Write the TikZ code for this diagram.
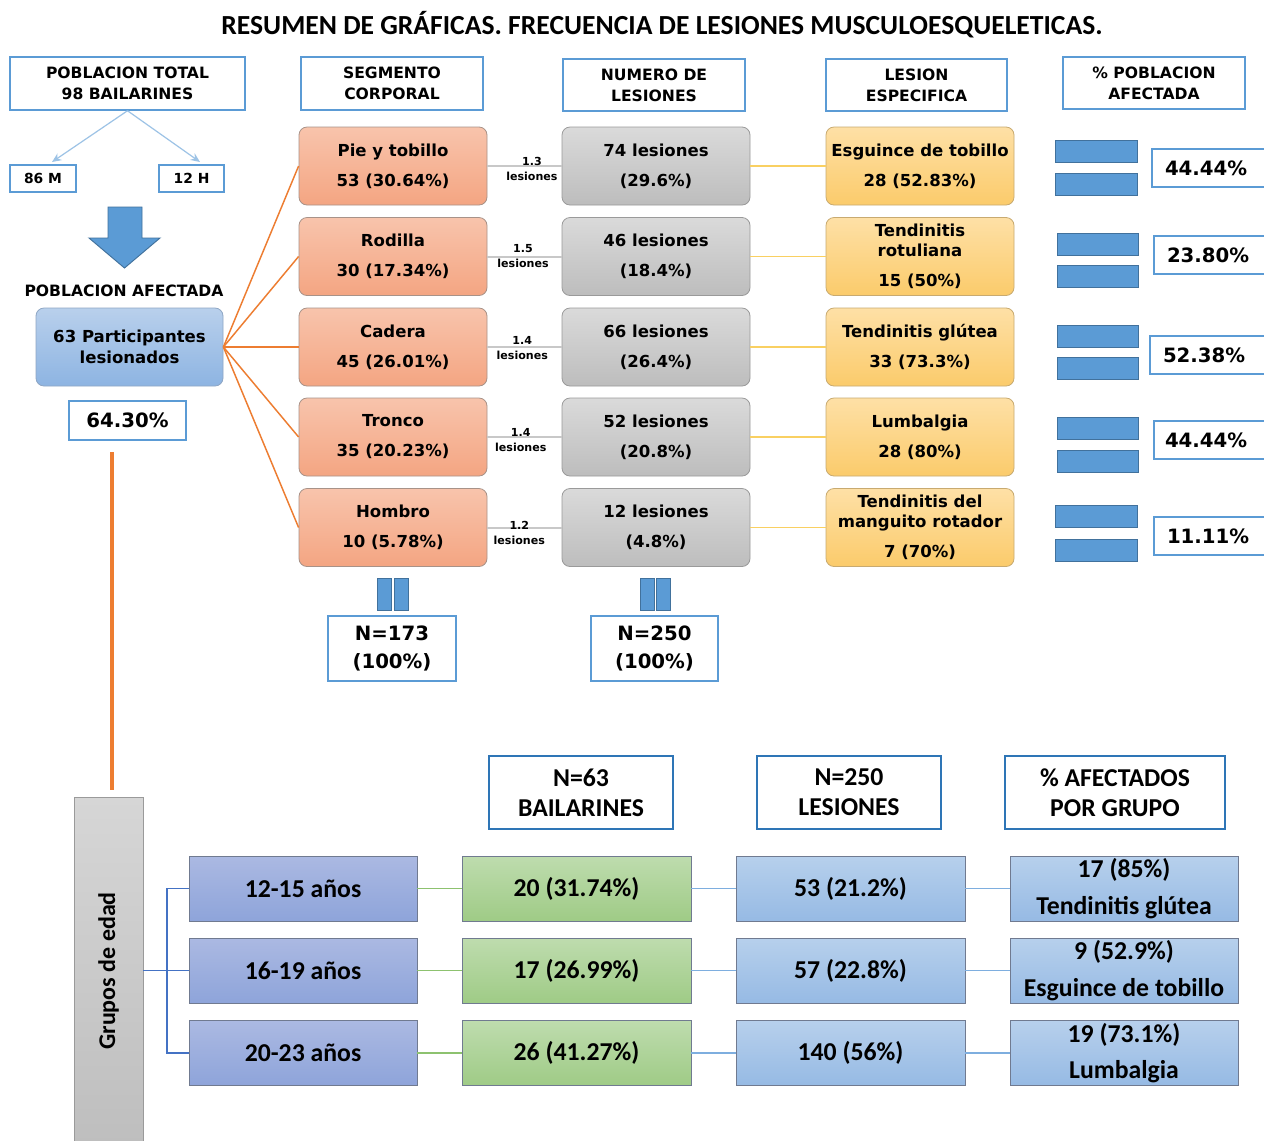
\documentclass[tikz,border=0pt]{standalone}
\usepackage{fontspec}
\setmainfont{Carlito}
\newfontfamily\dv{DejaVu Sans}
\usetikzlibrary{arrows.meta}
\definecolor{hdrblue}{HTML}{5B9BD5}
\definecolor{hdrblue2}{HTML}{2E75B6}
\definecolor{salT}{HTML}{F8C4AC}
\definecolor{salB}{HTML}{F4A582}
\definecolor{salE}{HTML}{A89288}
\definecolor{grayT}{HTML}{DADADA}
\definecolor{grayB}{HTML}{BDBDBD}
\definecolor{grayE}{HTML}{9A9A9A}
\definecolor{yelT}{HTML}{FEE0A6}
\definecolor{yelB}{HTML}{FBCB6B}
\definecolor{yelE}{HTML}{C8AA70}
\definecolor{partT}{HTML}{B9D0EC}
\definecolor{partB}{HTML}{8DB4E2}
\definecolor{partE}{HTML}{8EA6C4}
\definecolor{barblue}{HTML}{5B9BD5}
\definecolor{barE}{HTML}{41719C}
\definecolor{ageT}{HTML}{ABB9E2}
\definecolor{ageB}{HTML}{8EA4DA}
\definecolor{ageE}{HTML}{707A90}
\definecolor{grnT}{HTML}{BEDCAE}
\definecolor{grnB}{HTML}{9FCB86}
\definecolor{bluT}{HTML}{B7D0EC}
\definecolor{bluB}{HTML}{96BAE4}
\definecolor{grpT}{HTML}{D6D6D6}
\definecolor{grpB}{HTML}{BEBEBE}
\definecolor{orng}{HTML}{ED7D31}
\definecolor{lgray}{HTML}{C8C8C8}
\definecolor{lyel}{HTML}{F9D062}
\definecolor{lblue}{HTML}{9DC3E6}
\definecolor{brk}{HTML}{4472C4}
\definecolor{lgrn}{HTML}{8DC26F}
\definecolor{lblu}{HTML}{7EAEDF}
\newcommand\dvhdr{\dv\bfseries\fontsize{11.7}{15.75}\selectfont}
\newcommand\dvbody{\dv\bfseries\fontsize{12.4}{15}\selectfont}
\newcommand\dvbig{\dv\bfseries\fontsize{14.8}{21}\selectfont}
\newcommand\cbody{\bfseries\fontsize{19.3}{22.5}\selectfont}
\tikzset{
  sz/.style 2 args={minimum width=#1*0.75pt,minimum height=#2*0.75pt},
  base/.style={inner sep=0pt,align=center,text=black},
  hdr/.style={base,draw=hdrblue,line width=1.1pt,fill=white,font=\dvhdr},
  hdrb/.style={base,draw=hdrblue2,line width=1.5pt,fill=white,font=\cbody},
  salmon/.style={base,rounded corners=6pt,draw=salE,line width=0.6pt,top color=salT,bottom color=salB,font=\dvbody,sz={188}{78}},
  grayb/.style={base,rounded corners=6pt,draw=grayE,line width=0.6pt,top color=grayT,bottom color=grayB,font=\dvbody,sz={188}{78}},
  yelb/.style={base,rounded corners=6pt,draw=yelE,line width=0.6pt,top color=yelT,bottom color=yelB,font=\dvbody,sz={188}{78}},
  bar/.style={draw=barE,line width=0.6pt,fill=barblue,inner sep=0pt},
  pctb/.style={hdr,font=\dvbig},
  lbl/.style={inner sep=0pt,align=center,font=\dv\bfseries\fontsize{8.3}{11.25}\selectfont},
  ageb/.style={base,draw=ageE,line width=0.6pt,top color=ageT,bottom color=ageB,font=\cbody,sz={228}{65}},
  grnb/.style={base,draw=ageE,line width=0.6pt,top color=grnT,bottom color=grnB,font=\cbody,sz={229}{65}},
  blub/.style={base,draw=ageE,line width=0.6pt,top color=bluT,bottom color=bluB,font=\cbody,sz={229}{65}},
  orl/.style={draw=orng,line width=1.1pt},
  grl/.style={draw=lgray,line width=1.5pt},
  yel/.style={draw=lyel,line width=1.3pt},
}
\begin{document}
\begin{tikzpicture}[x=0.75pt,y=-0.75pt]
\useasboundingbox (0,0) rectangle (1264,1140);
\fill[white] (0,0) rectangle (1264,1140);

% title
\node[base,font=\bfseries\fontsize{20.7}{24}\selectfont] (title) at (662,25) {RESUMEN DE GRÁFICAS. FRECUENCIA DE LESIONES MUSCULOESQUELETICAS.};

% left column
\node[hdr,sz={235}{53}] (tot) at (127.5,83.5) {POBLACION TOTAL\\98 BAILARINES};
\node[hdr,sz={66}{27},font=\dv\bfseries\fontsize{10.4}{12}\selectfont,line width=0.9pt] (m) at (43,178.5) {86 M};
\node[hdr,sz={65}{27},font=\dv\bfseries\fontsize{10.4}{12}\selectfont,line width=0.9pt] (h) at (191.5,178.5) {12 H};
\coordinate (ma) at (52,162);
\coordinate (ha) at (200,162);
\draw[lblue,line width=0.9pt,-{Stealth[length=7pt,width=6pt]}] (tot.south) -- (ma);
\draw[lblue,line width=0.9pt,-{Stealth[length=7pt,width=6pt]}] (tot.south) -- (ha);
\draw[draw=barE,fill=barblue,line width=0.7pt] (108,207) -- (142,207) -- (142,238) -- (160,238) -- (124.5,268) -- (89,238) -- (108,238) -- cycle;
\node[base,font=\dvhdr] (pa) at (124,291) {POBLACION AFECTADA};
\node[base,rounded corners=6pt,draw=partE,line width=0.6pt,top color=partT,bottom color=partB,font=\dv\bfseries\fontsize{12.4}{15.75}\selectfont,sz={187}{78}] (part) at (129.5,347) {63 Participantes\\lesionados};
\node[pctb,sz={117}{39}] (pct) at (127.5,420.5) {64.30\%};

% headers
\node[hdr,sz={182}{53}] (hseg) at (392,83.5) {SEGMENTO\\CORPORAL};
\node[hdr,sz={182}{52}] (hnum) at (654,85) {NUMERO DE\\LESIONES};
\node[hdr,sz={181}{52}] (hles) at (916.5,85) {LESION\\ESPECIFICA};
\node[hdr,sz={182}{52}] (hpob) at (1154,83) {\% POBLACION\\AFECTADA};

% rows
\node[salmon] (s1) at (393,166) {Pie y tobillo\\[7.5pt]53 (30.64\%)};
\node[salmon] (s2) at (393,256.5) {Rodilla\\[7.5pt]30 (17.34\%)};
\node[salmon] (s3) at (393,347) {Cadera\\[7.5pt]45 (26.01\%)};
\node[salmon] (s4) at (393,437) {Tronco\\[7.5pt]35 (20.23\%)};
\node[salmon] (s5) at (393,527.5) {Hombro\\[7.5pt]10 (5.78\%)};

\node[grayb] (g1) at (656,166) {74 lesiones\\[7.5pt](29.6\%)};
\node[grayb] (g2) at (656,256.5) {46 lesiones\\[7.5pt](18.4\%)};
\node[grayb] (g3) at (656,347) {66 lesiones\\[7.5pt](26.4\%)};
\node[grayb] (g4) at (656,437) {52 lesiones\\[7.5pt](20.8\%)};
\node[grayb] (g5) at (656,527.5) {12 lesiones\\[7.5pt](4.8\%)};

\node[yelb] (y1) at (920,166) {Esguince de tobillo\\[7.5pt]28 (52.83\%)};
\node[yelb] (y2) at (920,256.5) {Tendinitis\\rotuliana\\[7.5pt]15 (50\%)};
\node[yelb] (y3) at (920,347) {Tendinitis glútea\\[7.5pt]33 (73.3\%)};
\node[yelb] (y4) at (920,437) {Lumbalgia\\[7.5pt]28 (80\%)};
\node[yelb] (y5) at (920,527.5) {Tendinitis del\\manguito rotador\\[7.5pt]7 (70\%)};

\foreach \i in {1,...,5} {
  \draw[orl] (part.east) -- (s\i.west);
  \draw[yel] (g\i.east) -- (y\i.west);
}
\draw[grl] (s1.east) -- node[lbl,pos=0.6,yshift=-1.9pt]{1.3\\lesiones} (g1.west);
\draw[grl] (s2.east) -- node[lbl,pos=0.48,yshift=0.7pt]{1.5\\lesiones} (g2.west);
\draw[grl] (s3.east) -- node[lbl,pos=0.47,yshift=-1.1pt]{1.4\\lesiones} (g3.west);
\draw[grl] (s4.east) -- node[lbl,pos=0.45,yshift=-2.6pt]{1.4\\lesiones} (g4.west);
\draw[grl] (s5.east) -- node[lbl,pos=0.43,yshift=-4.1pt]{1.2\\lesiones} (g5.west);

% blue bars right
\node[bar,sz={82}{22}] (b1a) at (1096,151.5) {};
\node[bar,sz={82}{22}] (b1b) at (1096,184) {};
\node[bar,sz={81}{22}] (b2a) at (1097.5,244) {};
\node[bar,sz={81}{22}] (b2b) at (1097.5,276.5) {};
\node[bar,sz={81}{22}] (b3a) at (1097.5,336) {};
\node[bar,sz={81}{22}] (b3b) at (1097.5,368.5) {};
\node[bar,sz={81}{22}] (b4a) at (1097.5,428.5) {};
\node[bar,sz={81}{22}] (b4b) at (1097.5,461) {};
\node[bar,sz={82}{22}] (b5a) at (1096,516.5) {};
\node[bar,sz={82}{22}] (b5b) at (1096,550) {};

\node[pctb,sz={116}{38},text width=100*0.75pt,align=left] (p1) at (1210,168) {\hspace*{3.75pt}44.44\%};
\node[pctb,sz={114}{38},text width=98*0.75pt,align=left] (p2) at (1211,255) {\hspace*{3.75pt}23.80\%};
\node[pctb,sz={118}{38},text width=102*0.75pt,align=left] (p3) at (1209,355) {\hspace*{3.75pt}52.38\%};
\node[pctb,sz={114}{38},text width=98*0.75pt,align=left] (p4) at (1211,440) {\hspace*{2.25pt}44.44\%};
\node[pctb,sz={114}{38},text width=98*0.75pt,align=left] (p5) at (1211,536) {\hspace*{3.75pt}11.11\%};

% equal bars + totals
\node[bar,sz={14}{32}] (e1) at (384,594) {};
\node[bar,sz={14}{32}] (e2) at (401,594) {};
\node[bar,sz={14}{32}] (e3) at (647,594) {};
\node[bar,sz={14}{32}] (e4) at (663,594) {};
\node[pctb,sz={128}{65}] (n1) at (392,648.5) {N=173\\(100\%)};
\node[pctb,sz={127}{65}] (n2) at (654.5,648.5) {N=250\\(100\%)};

% bottom section
\node[base,rotate=90,draw=grayE,line width=0.6pt,top color=grpT,bottom color=grpB,font=\bfseries\fontsize{18}{20}\selectfont,sz={348}{69}] (grp) at (108.5,971) {Grupos de edad};
\coordinate (ol) at (112,452);
\draw[orng,line width=2.4pt,shorten >=5.25pt] (ol) -- (ol |- grp.east);

\node[hdrb,sz={184}{73}] (hb1) at (581,792.5) {N=63\\BAILARINES};
\node[hdrb,sz={184}{73}] (hb2) at (849,792.5) {N=250\\LESIONES};
\node[hdrb,sz={220}{73}] (hb3) at (1115,792.5) {\% AFECTADOS\\POR GRUPO};

\node[ageb] (a1) at (303,888.5) {12-15 años};
\node[ageb] (a2) at (303,970.5) {16-19 años};
\node[ageb] (a3) at (303,1053) {20-23 años};
\node[grnb] (c1) at (576.5,888.5) {20 (31.74\%)};
\node[grnb] (c2) at (576.5,970.5) {17 (26.99\%)};
\node[grnb] (c3) at (576.5,1053) {26 (41.27\%)};
\node[blub] (d1) at (850.5,888.5) {53 (21.2\%)};
\node[blub] (d2) at (850.5,970.5) {57 (22.8\%)};
\node[blub] (d3) at (850.5,1053) {140 (56\%)};
\node[blub,sz={228}{65}] (f1) at (1124,888.5) {17 (85\%)\\[5pt]Tendinitis glútea};
\node[blub,sz={228}{65}] (f2) at (1124,970.5) {9 (52.9\%)\\[5pt]Esguince de tobillo};
\node[blub,sz={228}{65}] (f3) at (1124,1053) {19 (73.1\%)\\[5pt]Lumbalgia};

\coordinate (bk) at (167,970.5);
\draw[brk,line width=1.2pt] (grp.south |- a2) -- (a2.west);
\draw[brk,line width=1.2pt] (a1.west) -- (bk |- a1) -- (bk |- a3) -- (a3.west);
\foreach \i in {1,2,3} {
  \draw[lgrn,line width=1.2pt] (a\i.east) -- (c\i.west);
  \draw[lblu,line width=1.2pt] (c\i.east) -- (d\i.west);
  \draw[lblu,line width=1.2pt] (d\i.east) -- (f\i.west);
}
\end{tikzpicture}
\end{document}
